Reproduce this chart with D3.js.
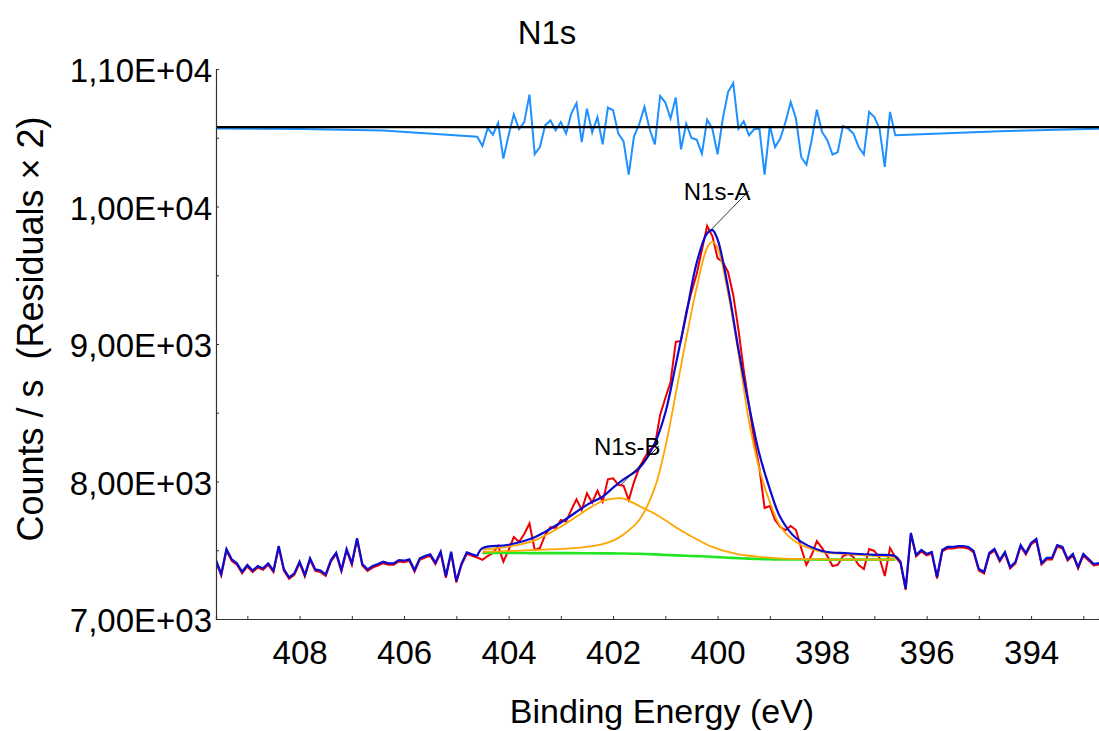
<!DOCTYPE html>
<html>
<head>
<meta charset="utf-8">
<script src="https://d3js.org/d3.v7.min.js"></script>
<style>
  body { margin: 0; background: #fff; }
  svg { display: block; font-family: "Liberation Sans", Arial, sans-serif; }
</style>
</head>
<body>
<div id="chart"></div>
<script>
// raw spectrum: counts on a 0.1 eV grid starting at 409.6 eV
var BE_START = 409.6, BE_STEP = 0.1;
var counts = [
  7418, 7316, 7498, 7423, 7394, 7333, 7382, 7341, 7374, 7357,
  7394, 7341, 7520, 7350, 7292, 7321, 7406, 7309, 7430, 7350,
  7341, 7314, 7418, 7471, 7345, 7498, 7394, 7576, 7389, 7350,
  7374, 7389, 7406, 7394, 7394, 7418, 7413, 7423, 7345, 7430,
  7447, 7459, 7399, 7479, 7300, 7479, 7265, 7394, 7474, 7459,
  7447, 7430, 7458, 7480, 7531, 7417, 7502, 7596, 7560, 7618,
  7695, 7502, 7516, 7611, 7669, 7662, 7720, 7708, 7793, 7871,
  7793, 7914, 7846, 7933, 7853, 8016, 8023, 7975, 7969, 7865,
  7996, 8098, 8171, 8229, 8258, 8484, 8607, 8724, 9015, 9022,
  9233, 9378, 9509, 9684, 9858, 9785, 9625, 9596, 9524, 9356,
  9102, 8811, 8556, 8302, 8098, 7807, 7822, 7720, 7669, 7647,
  7676, 7647, 7516, 7393, 7465, 7567, 7516, 7458, 7385, 7393,
  7458, 7473, 7451, 7393, 7364, 7509, 7495, 7444, 7313, 7516,
  7451, 7407, 7211, 7615, 7455, 7491, 7462, 7476, 7295, 7491,
  7513, 7513, 7520, 7520, 7513, 7484, 7353, 7331, 7469, 7498,
  7418, 7476, 7367, 7404, 7527, 7469, 7542, 7571, 7396, 7433,
  7433, 7527, 7513, 7425, 7462, 7367, 7462, 7425, 7389, 7396
];

// fit region (404.5 .. 396.6 eV), curves read at these energies
var fitBE = [404.5, 404.0, 403.5, 403.0, 402.5, 402.2, 402.0, 401.8, 401.5, 401.2,
             401.0, 400.8, 400.6, 400.4, 400.2, 400.1, 400.0, 399.8, 399.6, 399.4,
             399.2, 399.0, 398.8, 398.5, 398.0, 397.5, 397.0, 396.6];
var background = [7480, 7480, 7479, 7479, 7478, 7477, 7477, 7476, 7474, 7470,
                  7466, 7463, 7460, 7457, 7454, 7452, 7450, 7446, 7442, 7439,
                  7436, 7434, 7433, 7433, 7432, 7432, 7432, 7432];
var peakA = [7488, 7494, 7502, 7510, 7525, 7545, 7570, 7615, 7720, 7957,
             8250, 8640, 9040, 9410, 9700, 9745, 9700, 9370, 8930, 8440,
             8090, 7850, 7675, 7560, 7488, 7472, 7460, 7452];
var peakB = [7505, 7526, 7572, 7671, 7795, 7858, 7875, 7876, 7822, 7765,
             7718, 7668, 7622, 7580, 7540, 7524, 7510, 7488, 7470, 7460,
             7452, 7446, 7441, 7437, 7433, 7432, 7432, 7432];
var envelope = [7515, 7540, 7595, 7702, 7830, 7890, 7955, 8015, 8096, 8280,
                8500, 8850, 9215, 9590, 9805, 9828, 9760, 9410, 8960, 8555,
                8200, 7945, 7740, 7589, 7495, 7478, 7467, 7457];
var FIT_FIRST = 51, FIT_LAST = 130;   // indices of the grid covered by the fit

// residuals (counts), drawn x2 around RESID_ZERO
var RESID_ZERO = 10578, RESID_GAIN = 2;
var residFit = [
  -69, -4, -28, 15, -115, -30, 46, -8, 18, 118,
  -99, -73, 6, 24, -12, 18, -24, 49, 87, -55,
  67, -20, 36, -63, 71, 61, -24, -52, -173, -34,
  10, 73, -8, -63, 113, 89, 31, 107, -81, 12,
  -40, -46, -97, 27, -6, -99, 31, 127, 160, -6,
  21, -30, -8, -6, -173, 4, -73, -42, 18, 91,
  31, -109, -137, -48, 63, -18, -48, -100, -91, 4,
  -6, -24, -73, -100, 55, 36, -6, -145, 55, -30
];
var residLeftBE = [409.6, 408.0, 406.4, 404.6];
var residLeft = [-5, -7, -13, -35];
var residRightBE = [396.6, 394.6, 392.7];
var residRight = [-30, -15, -6];

// component labels
var peakNames = ["N1s-A", "N1s-B"];
var peakCentre = [400.13, 401.85];
var peakTop = [9829, 7975];

var yTicks = [7000, 7500, 8000, 8500, 9000, 9500, 10000, 10500, 11000];
var xTicks = d3.range(393, 410);

var W = 1099, H = 731;
var svg = d3.select("#chart").append("svg").attr("width", W).attr("height", H);

var x = d3.scaleLinear().domain([409.6, 392.7]).range([216, 1099]);
var y = d3.scaleLinear().domain([7000, 11000]).range([619, 69]);

var be = counts.map(function(c, i) { return BE_START - i * BE_STEP; });

svg.append("clipPath").attr("id", "plot").append("rect")
  .attr("x", 216).attr("y", 60).attr("width", W - 216).attr("height", 560);

var g = svg.append("g").attr("clip-path", "url(#plot)");

var line = d3.line().x(function(d) { return x(d[0]); }).y(function(d) { return y(d[1]); });
var smooth = d3.line().curve(d3.curveCatmullRom.alpha(0.5))
  .x(function(d) { return x(d[0]); }).y(function(d) { return y(d[1]); });

function pairs(xs, ys) { return xs.map(function(v, i) { return [v, ys[i]]; }); }

// raw data
g.append("path").attr("d", line(pairs(be, counts)))
  .attr("fill", "none").attr("stroke", "#ee0000").attr("stroke-width", 2);

// background and components
g.append("path").attr("d", smooth(pairs(fitBE, background)))
  .attr("fill", "none").attr("stroke", "#22e622").attr("stroke-width", 2.6);
[peakA, peakB].forEach(function(p) {
  g.append("path").attr("d", smooth(pairs(fitBE, p)))
    .attr("fill", "none").attr("stroke", "#ffa500").attr("stroke-width", 1.8);
});

// envelope: data outside the region, fit inside
var lift = -1.5;
g.append("path").attr("d", line(pairs(be.slice(0, FIT_FIRST), counts.slice(0, FIT_FIRST))))
  .attr("transform", "translate(0," + lift + ")")
  .attr("fill", "none").attr("stroke", "#0a0ad2").attr("stroke-width", 2.2);
g.append("path").attr("d", line(pairs(be.slice(FIT_LAST + 1), counts.slice(FIT_LAST + 1))))
  .attr("transform", "translate(0," + lift + ")")
  .attr("fill", "none").attr("stroke", "#0a0ad2").attr("stroke-width", 2.2);
var envPts = [[be[FIT_FIRST - 1], counts[FIT_FIRST - 1] + 10]].concat(pairs(fitBE, envelope))
  .concat([[be[FIT_LAST + 1], counts[FIT_LAST + 1] + 10]]);
g.append("path").attr("d", smooth(envPts))
  .attr("fill", "none").attr("stroke", "#0a0ad2").attr("stroke-width", 2.2);

// residuals
var ry = function(r) { return RESID_ZERO + RESID_GAIN * r; };
var residPts = pairs(residLeftBE, residLeft.map(ry))
  .concat(residFit.map(function(r, i) { return [be[FIT_FIRST + i], ry(r)]; }))
  .concat(pairs(residRightBE.slice(1), residRight.slice(1).map(ry)));
g.append("path").attr("d", line(residPts))
  .attr("fill", "none").attr("stroke", "#1e90ff").attr("stroke-width", 2);
g.append("line")
  .attr("x1", x(409.6)).attr("x2", x(392.7))
  .attr("y1", y(RESID_ZERO)).attr("y2", y(RESID_ZERO))
  .attr("stroke", "#000").attr("stroke-width", 2.2);

// labels with leaders
peakNames.forEach(function(name, i) {
  var px = x(peakCentre[i]), py = y(peakTop[i]);
  svg.append("line").attr("x1", px).attr("y1", py)
    .attr("x2", px + 38).attr("y2", py - 39)
    .attr("stroke", "#000").attr("stroke-width", 0.8);
  svg.append("text").attr("x", px - 27).attr("y", py - 30)
    .attr("font-size", 24).attr("fill", "#000").text(name);
});

// axes
var fmt = function(d) {
  var e = Math.floor(Math.log10(d));
  var m = d / Math.pow(10, e);
  return m.toFixed(2).replace(".", ",") + "E+" + (e < 10 ? "0" : "") + e;
};

var xAxis = svg.append("g").attr("transform", "translate(0,619)")
  .call(d3.axisBottom(x).tickValues(xTicks).tickSize(-3).tickPadding(22)
    .tickFormat(function(d) { return d % 2 === 0 ? d : ""; }));
var yAxis = svg.append("g").attr("transform", "translate(216,0)")
  .call(d3.axisLeft(y).tickValues(yTicks).tickSize(-3).tickPadding(4)
    .tickFormat(function(d) { return d % 1000 === 0 ? fmt(d) : ""; }));

[xAxis, yAxis].forEach(function(a) {
  a.select(".domain").attr("stroke", "#333").attr("stroke-width", 1.2);
  a.selectAll(".tick line").attr("stroke", "#333");
  a.selectAll("text").attr("font-size", 33).attr("fill", "#000")
    .attr("font-family", "'Liberation Sans', Arial, sans-serif");
});
yAxis.selectAll("text").attr("dy", "0.38em");

svg.append("text").attr("x", 547).attr("y", 44).attr("text-anchor", "middle")
  .attr("font-size", 33).text("N1s");
svg.append("text").attr("x", 662).attr("y", 723).attr("text-anchor", "middle")
  .attr("font-size", 34).text("Binding Energy (eV)");
svg.append("text").attr("transform", "translate(43,329) rotate(-90)")
  .attr("text-anchor", "middle").attr("font-size", 36)
  .attr("xml:space", "preserve").style("white-space", "pre")
  .text("Counts / s  (Residuals \u00d7 2)");
</script>
</body>
</html>
